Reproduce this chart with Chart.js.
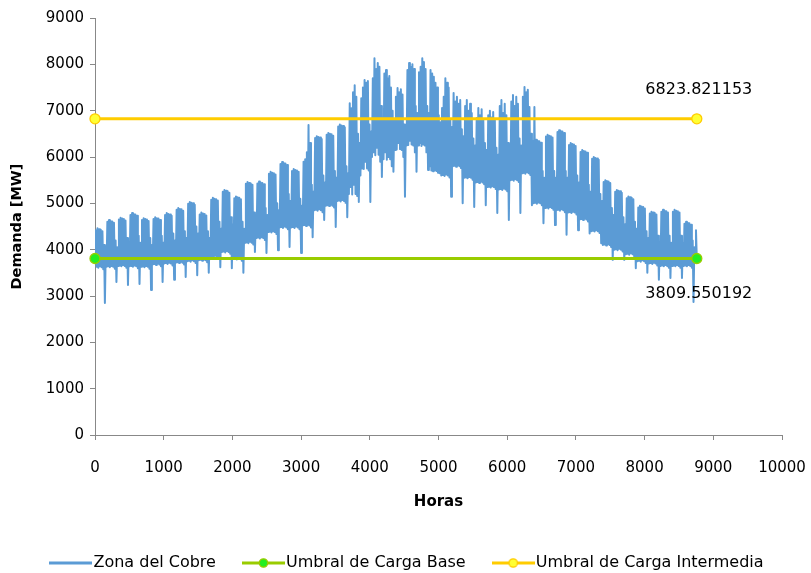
<!DOCTYPE html>
<html><head><meta charset="utf-8">
<script src="https://cdn.jsdelivr.net/npm/chart.js@4"></script>
<style>html,body{margin:0;padding:0;background:#fff;overflow:hidden}</style>
</head><body>
<canvas id="c" width="811" height="573"></canvas>
<script>
// ---- data ----
const hourStep = 12; // two readings per day: night trough / day peak
// one row per week (14 half-day readings), MW
const zonaDelCobre = [
 3700,4420,3630,4460,3610,4440,3640,4430,3620,4400,3580,4100,2850,3950,
 3630,4600,3640,4640,3620,4620,3650,4610,3630,4580,3590,4200,3300,4050,
 3650,4650,3660,4690,3640,4670,3670,4660,3650,4630,3610,4250,3240,4100,
 3640,4750,3650,4790,3630,4770,3660,4760,3640,4730,3600,4300,3260,4150,
 3630,4640,3640,4680,3620,4660,3650,4650,3630,4620,3590,4250,3130,4100,
 3680,4660,3690,4700,3670,4680,3700,4670,3680,4640,3640,4300,3300,4150,
 3700,4750,3710,4790,3690,4770,3720,4760,3700,4730,3660,4350,3350,4200,
 3720,4860,3730,4900,3710,4880,3740,4870,3720,4840,3680,4400,3410,4250,
 3750,4990,3760,5030,3740,5010,3770,5000,3750,4970,3710,4500,3450,4350,
 3770,4760,3780,4800,3760,4780,3790,4770,3770,4740,3730,4400,3500,4250,
 3850,5080,3860,5120,3840,5100,3870,5090,3850,5060,3810,4600,3620,4450,
 3950,5250,3960,5290,3940,5270,3970,5260,3950,5230,3910,4700,3600,4550,
 3800,5110,3810,5150,3790,5130,3820,5120,3800,5090,3760,4600,3500,4450,
 4150,5420,4160,5460,4140,5440,4170,5430,4150,5400,4110,4800,3950,4650,
 4250,5430,4260,5470,4240,5450,4270,5440,4250,5410,4210,4900,3930,4750,
 4380,5640,4390,5680,4370,5660,4400,5650,4380,5620,4340,5000,3990,4850,
 4480,5850,4490,5890,4470,5870,4500,5860,4480,5830,4440,5200,4060,5050,
 4480,5700,4490,5740,4470,5720,4500,5710,4480,5680,4440,5100,3930,4950,
 4520,5900,4530,5950,4510,6100,4540,6690,4520,6300,4480,5400,4270,5250,
 4850,6410,4860,6450,4840,6430,4870,6420,4850,6390,4810,5600,4640,5450,
 4950,6480,4960,6520,4940,6500,4970,6490,4950,6460,4910,5700,4490,5550,
 5050,6660,5060,6700,5040,6680,5070,6670,5050,6640,5010,5800,4700,5650,
 5200,7160,5350,7050,5190,7400,5400,7550,5200,7300,5160,6500,5030,6300,
 5600,7270,5750,7500,5740,7660,5900,7600,5750,7640,5710,6700,5030,6550,
 6000,7700,6100,8130,6040,7900,6200,8030,6050,7950,5900,7100,5570,6850,
 5950,7800,6100,7880,5940,7700,6000,7750,5950,7500,5800,7000,5680,6800,
 6150,7300,6160,7490,6300,7400,6170,7460,6150,7350,6000,6700,5140,6550,
 6250,7880,6260,8030,6350,7950,6270,8000,6250,7900,6100,7100,5680,6950,
 6250,7830,6300,7950,6240,8130,6270,8050,6250,7900,6100,7100,5720,6950,
 5800,7880,5710,7800,5690,7730,5720,7600,5700,7500,5660,6900,5650,6750,
 5600,7060,5610,7300,5590,7700,5620,7600,5600,7500,5560,6800,5140,6650,
 5800,7380,5810,7200,5790,7300,5820,7150,5800,7230,5760,6600,5000,6450,
 5550,7100,5560,7230,5540,7000,5570,7150,5550,6950,5510,6400,4920,6250,
 5450,6840,5460,7060,5440,6900,5470,7030,5450,6800,5410,6300,4960,6150,
 5350,6900,5360,7000,5340,6850,5370,6970,5350,6800,5310,6200,4790,6050,
 5300,7100,5310,7230,5290,6950,5320,7150,5300,6900,5260,6300,4640,6150,
 5500,7200,5510,7340,5490,7100,5520,7300,5500,7150,5460,6400,4790,6250,
 5650,7300,5660,7510,5640,7400,5670,7450,5650,7080,5610,6500,4960,6350,
 5000,7080,5010,6370,4990,6350,5020,6340,5000,6310,4960,5700,4570,5550,
 4900,6440,4910,6480,4890,6460,4920,6450,4900,6420,4860,5700,4530,5550,
 4850,6540,4860,6580,4840,6560,4870,6550,4850,6520,4810,5700,4320,5550,
 4800,6260,4810,6300,4790,6280,4820,6270,4800,6240,4760,5600,4420,5450,
 4650,6110,4660,6150,4640,6130,4670,6120,4650,6090,4610,5400,4350,5250,
 4400,5960,4410,6000,4390,5980,4420,5970,4400,5940,4360,5200,4140,5050,
 4100,5460,4110,5500,4090,5480,4120,5470,4100,5440,4060,4900,3780,4750,
 4000,5250,4010,5290,3990,5270,4020,5260,4000,5230,3960,4700,3780,4550,
 3900,5110,3910,5150,3890,5130,3920,5120,3900,5090,3860,4600,3600,4450,
 3750,4910,3760,4950,3740,4930,3770,4920,3750,4890,3710,4400,3500,4250,
 3700,4780,3710,4820,3690,4800,3720,4790,3700,4760,3660,4300,3350,4150,
 3650,4820,3660,4860,3640,4840,3670,4830,3650,4800,3610,4300,3390,4150,
 3650,4820,3660,4860,3640,4840,3670,4830,3650,4800,3610,4300,3390,4150,
 3650,4560,3660,4600,3640,4580,3670,4570,3650,4540,3610,4200,2870,4050,
 3750,4420,3800
];
const thresholdHours = [0, 8760];
const umbralBase = [3809.550192, 3809.550192];
const umbralIntermedia = [6823.821153, 6823.821153];
const seriesNames = ['Zona del Cobre', 'Umbral de Carga Base', 'Umbral de Carga Intermedia'];
const xAxisTitle = 'Horas';
const yAxisTitle = 'Demanda [MW]';

// ---- build ----
const FONT = '"DejaVu Sans"';
const zonaPoints = zonaDelCobre.map((v, i) => ({x: i * hourStep, y: v}));
const basePoints = thresholdHours.map((h, i) => ({x: h, y: umbralBase[i]}));
const interPoints = thresholdHours.map((h, i) => ({x: h, y: umbralIntermedia[i]}));

const colors = {
  zona: '#5B9BD5',
  base: '#99CC00', baseFill: '#22EE22',
  inter: '#FFCC00', interFill: '#FFFF33'
};

function legendIcon(line, fill) {
  const c = document.createElement('canvas');
  c.width = 43; c.height = 12;
  const g = c.getContext('2d');
  g.strokeStyle = line; g.lineWidth = 3;
  g.beginPath(); g.moveTo(0, 6); g.lineTo(43, 6); g.stroke();
  if (fill) {
    g.beginPath(); g.arc(21.5, 6, 4.2, 0, Math.PI * 2);
    g.fillStyle = fill; g.fill();
    g.lineWidth = 1.3; g.strokeStyle = line; g.stroke();
  }
  return c;
}
const icons = [legendIcon(colors.zona), legendIcon(colors.base, colors.baseFill), legendIcon(colors.inter, colors.interFill)];

const valueLabels = {
  id: 'valueLabels',
  afterDatasetsDraw(chart) {
    const ctx = chart.ctx;
    ctx.save();
    ctx.font = '16px ' + FONT;
    ctx.fillStyle = '#000';
    ctx.textAlign = 'center';
    ctx.textBaseline = 'middle';
    [[1, 35], [2, -29]].forEach(([di, dy]) => {
      const meta = chart.getDatasetMeta(di);
      const pt = meta.data[meta.data.length - 1];
      const val = chart.data.datasets[di].data[meta.data.length - 1].y;
      ctx.fillText(val.toFixed(6), pt.x + 2, pt.y + dy);
    });
    ctx.restore();
  }
};

const legendShift = {
  id: 'legendShift',
  afterLayout(chart) {
    if (chart.legend) { chart.legend.left += 15; chart.legend.right += 15; }
  }
};

const tickFont = {family: FONT, size: 15};
const plain = v => String(v);
new Chart(document.getElementById('c'), {
  type: 'line',
  data: {
    datasets: [
      {label: seriesNames[0], data: zonaPoints, borderColor: colors.zona, backgroundColor: colors.zona,
       borderWidth: 2, pointRadius: 0, tension: 0, borderJoinStyle: 'round', order: 1},
      {label: seriesNames[1], data: basePoints, borderColor: colors.base, backgroundColor: colors.baseFill,
       borderWidth: 3, pointRadius: 5, pointBorderWidth: 1.3, pointBorderColor: colors.base,
       pointBackgroundColor: colors.baseFill, clip: false, order: 0},
      {label: seriesNames[2], data: interPoints, borderColor: colors.inter, backgroundColor: colors.interFill,
       borderWidth: 3, pointRadius: 5, pointBorderWidth: 1.3, pointBorderColor: colors.inter,
       pointBackgroundColor: colors.interFill, clip: false, order: 0}
    ]
  },
  options: {
    responsive: false,
    animation: false,
    parsing: false,
    layout: {padding: {left: 8, right: 29, top: 18, bottom: -8}},
    scales: {
      x: {
        type: 'linear', min: 0, max: 10000,
        ticks: {stepSize: 1000, color: '#000', font: tickFont, padding: 19, maxRotation: 0, callback: plain},
        grid: {display: true, drawOnChartArea: false, drawTicks: true, tickLength: 5, color: '#888', lineWidth: 1},
        border: {color: '#888', width: 1},
        title: {display: true, text: xAxisTitle, color: '#000', font: {family: FONT, size: 15, weight: 'bold'}, padding: {top: 0, bottom: 11}},
        afterFit(s) { s.height = 87; s.paddingRight = 24; s.paddingLeft = 6; }
      },
      y: {
        type: 'linear', min: 0, max: 9000,
        ticks: {stepSize: 1000, color: '#000', font: tickFont, padding: 6, callback: plain},
        grid: {display: true, drawOnChartArea: false, drawTicks: true, tickLength: 5, color: '#888', lineWidth: 1},
        border: {color: '#888', width: 1},
        title: {display: true, text: yAxisTitle, color: '#000', font: {family: FONT, size: 14.5, weight: 'bold'}, padding: {top: 1, bottom: 0}},
        afterFit(s) { s.width = 87; }
      }
    },
    plugins: {
      legend: {
        position: 'bottom',
        labels: {
          usePointStyle: true, pointStyleWidth: 29, boxHeight: 12,
          padding: 33, color: '#000', font: {family: FONT, size: 16},
          sort: (a, b) => a.datasetIndex - b.datasetIndex,
          generateLabels(chart) {
            const items = Chart.defaults.plugins.legend.labels.generateLabels(chart);
            items.forEach(it => { it.pointStyle = icons[it.datasetIndex]; });
            return items;
          }
        }
      },
      tooltip: {enabled: false}
    }
  },
  plugins: [valueLabels, legendShift]
});
</script>
</body></html>
